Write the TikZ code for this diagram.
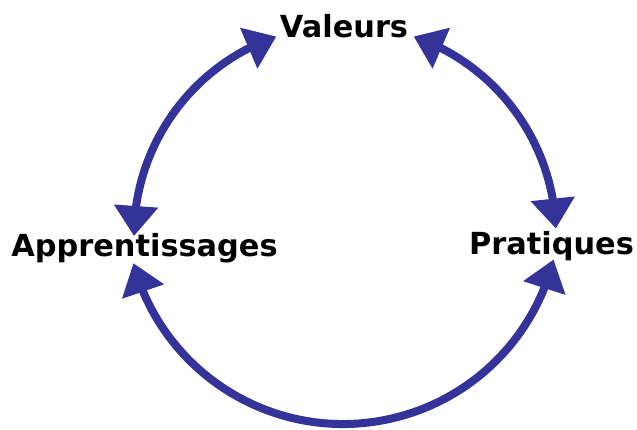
\documentclass[tikz,border=0pt]{standalone}
\usepackage{fontspec}
\setmainfont{DejaVu Sans}
\usetikzlibrary{arrows.meta, bending}
\definecolor{cycleblue}{RGB}{51,51,153}
\tikzset{
    % the three stages of the cycle, bold black words
    stage/.style={font=\fontsize{17.3}{20}\selectfont\bfseries, inner sep=0pt, anchor=base},
    % curved double-headed connectors
    link/.style={{Triangle[length=0.6cm, width=0.85cm]}-{Triangle[length=0.6cm, width=0.85cm]},
        line width=0.16cm, draw=cycleblue},
}

\begin{document}
\begin{tikzpicture}[x=0.02cm, y=0.02cm]
    \useasboundingbox (0,0) rectangle (637,430);

    % ---- stages ----
    \node[stage] (val) at (344,392)   {Valeurs};
    \node[stage] (app) at (144.5,173) {Apprentissages};
    \node[stage] (pra) at (551.5,175) {Pratiques};

    % ---- centres of the arcs ----
    \coordinate (ctop) at (345,194);
    \coordinate (cbot) at (343,223);

    % arc ends next to the stages
    \coordinate (appT) at ([shift={(180:211)}]ctop);
    \coordinate (valR) at ([shift={(71:211)}]ctop);
    \coordinate (appB) at ([shift={(195:217)}]cbot);

    % Apprentissages <-> Valeurs
    \draw[link] (appT) arc[start angle=180, end angle=109, radius=211];
    % Valeurs <-> Pratiques
    \draw[link] (valR) arc[start angle=71, end angle=2, radius=211];
    % Apprentissages <-> Pratiques, round the bottom
    \draw[link] (appB) arc[start angle=195, end angle=346, radius=217];

\end{tikzpicture}
\end{document}
